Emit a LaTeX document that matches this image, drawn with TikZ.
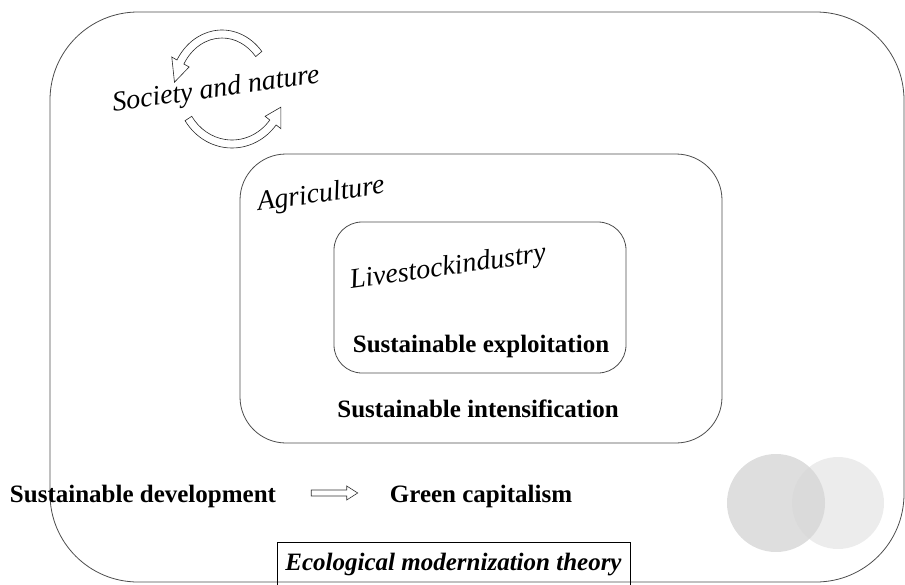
\documentclass[tikz,border=0pt]{standalone}
\usepackage{fontspec}
\setmainfont{Liberation Serif}[
  UprightFont={Liberation Serif},
  BoldFont={Liberation Serif Bold},
  ItalicFont={Liberation Serif Italic},
  BoldItalicFont={Liberation Serif Bold Italic}]
\usetikzlibrary{arrows.meta,calc}

% hollow curved arrow: centre x, centre y, x radius, y radius, tail angle, head angle, tip angle
\newcommand{\hollowloop}[7]{%
  \draw[fill=white,draw=black!85,line width=0.6pt]
    ($(#1,#2)+(#5:{#3+4} and {#4+4})$)
    arc[start angle=#5,end angle=#6,x radius=#3+4,y radius=#4+4]
    -- ($(#1,#2)+(#6:{#3+10} and {#4+10})$)
    -- ($(#1,#2)+(#7:#3 and #4)$)
    -- ($(#1,#2)+(#6:{#3-10} and {#4-10})$)
    -- ($(#1,#2)+(#6:{#3-4} and {#4-4})$)
    arc[start angle=#6,end angle=#5,x radius=#3-4,y radius=#4-4]
    -- cycle;}

\begin{document}
\begin{tikzpicture}[x=1pt,y=-1pt]
%%%%%%%%%%%%%%%%%%%%%%%%%%%%%%%%%%%%%%%%%%%%%%%%%%%%%%%%
% STYLE
\tikzstyle{zone}=[rectangle,draw=black!70,line width=0.8pt,inner sep=0pt]
\tikzstyle{ital}=[font=\fontsize{28}{32}\selectfont\itshape,inner sep=0pt,anchor=base,rotate=8]
\tikzstyle{txt}=[font=\fontsize{25}{30}\selectfont\bfseries,inner sep=0pt,anchor=base]

\tikzset{link/.style={draw=black!80,fill=white,line width=0.6pt}}

\useasboundingbox (0,0) rectangle (905,584);

%%%%%%%%%%%%%%%%%%%%%%%%%%%%%%%%%%%%%%%%%%%%%%%%%%%%%%%%
% ZONES
\node[zone,rounded corners=88pt,minimum width=854pt,minimum height=570pt] (world) at (477,297) {};
\node[zone,rounded corners=46pt,minimum width=482pt,minimum height=289pt] (agri) at (481,298.5) {};
\node[zone,rounded corners=28pt,minimum width=292pt,minimum height=151pt] (stock) at (480,297.5) {};

\fill[gray!15] (838,503) circle (46);
\fill[gray!32,opacity=0.8] (776,503) circle (49);

%%%%%%%%%%%%%%%%%%%%%%%%%%%%%%%%%%%%%%%%%%%%%%%%%%%%%%%%
% NODES
\node[ital] (society) at (217,97) {Society and nature};
\node[ital] (agritxt) at (322,202) {Agriculture};
\node[ital] (stocktxt) at (449,275) {Livestockindustry};

\node[txt] (exploit) at (481,352) {Sustainable exploitation};
\node[txt] (intens) at (478,417) {Sustainable intensification};
\node[txt] (dev) at (143,502) {Sustainable development};
\node[txt] (green) at (481,502) {Green capitalism};

\node[zone,draw=black,minimum width=353pt,minimum height=46pt,
  font=\fontsize{25}{30}\selectfont\bfseries\itshape] (emt) at (453.5,565) {Ecological modernization theory};

%%%%%%%%%%%%%%%%%%%%%%%%%%%%%%%%%%%%%%%%%%%%%%%%%%%%%%%%
% LINKS
\hollowloop{222}{90}{48}{56}{-40}{-150}{-172}
\hollowloop{232}{88}{52}{56}{147}{38}{20}

\coordinate (from) at ($(dev.east)+(35,-3)$);
\coordinate (to) at ($(green.west)+(-32,-3)$);
\draw[link] ($(from)+(0,-3)$) -- ($(to)+(-11,-3)$) -- ($(to)+(-11,-7)$) -- (to)
  -- ($(to)+(-11,7)$) -- ($(to)+(-11,3)$) -- ($(from)+(0,3)$) -- cycle;
\end{tikzpicture}
\end{document}
